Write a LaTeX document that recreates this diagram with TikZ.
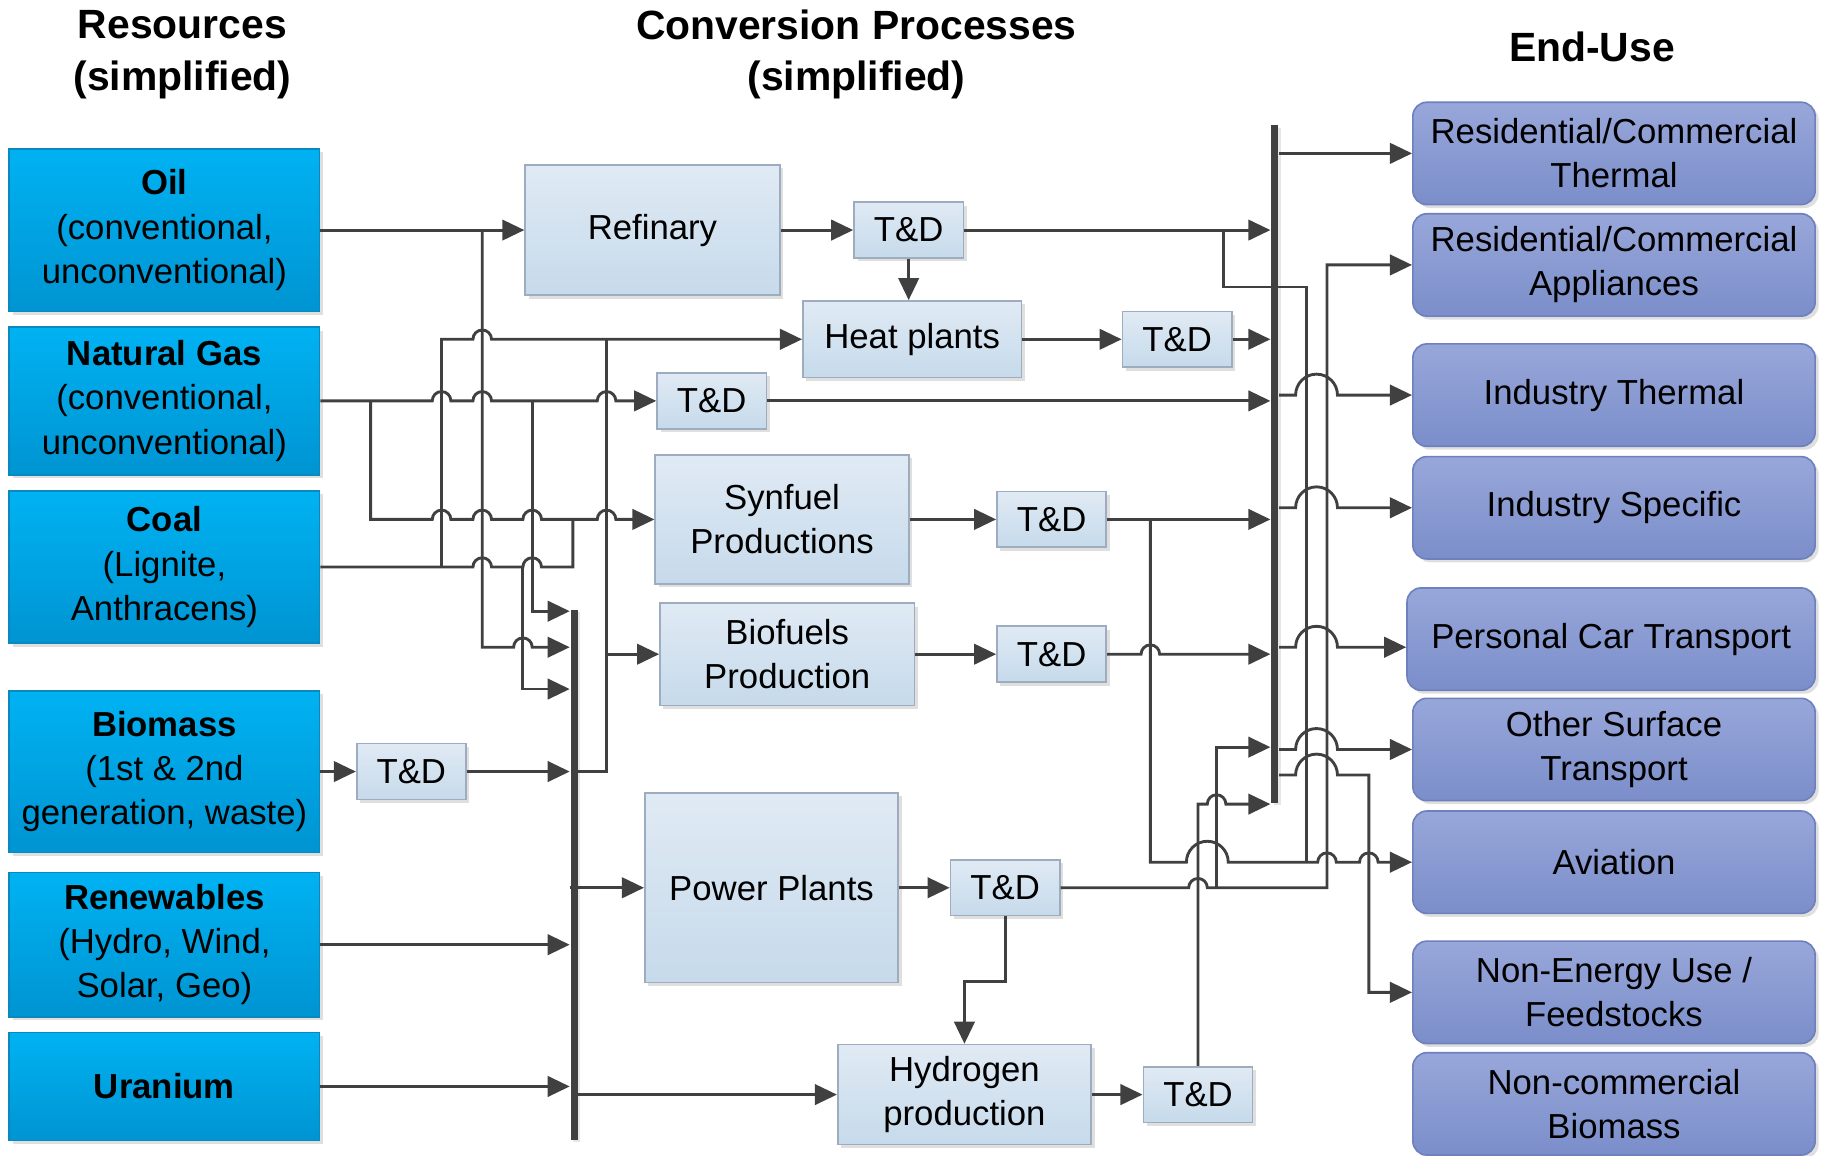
\documentclass[tikz,border=0pt]{standalone}
\usepackage{fontspec}
\setmainfont{Liberation Sans}
\usetikzlibrary{arrows.meta, shadows}

\definecolor{linegray}{HTML}{404040}
\definecolor{restop}{HTML}{00B2F2}
\definecolor{resbot}{HTML}{0094D2}
\definecolor{resedge}{HTML}{0B88BE}
\definecolor{proctop}{HTML}{E0EAF4}
\definecolor{procbot}{HTML}{C6DAEB}
\definecolor{procedge}{HTML}{9DADBF}
\definecolor{usetop}{HTML}{98A7DA}
\definecolor{usebot}{HTML}{7B8ECA}
\definecolor{useedge}{HTML}{6E80BD}

% a horizontal line jumping over a vertical one at x
\newcommand{\linehop}[2]{-- (#1-8,#2) arc[start angle=180, end angle=0, radius=0.08cm]}
\newcommand{\widehop}[2]{-- (#1-18,#2) arc[start angle=180, end angle=0, radius=0.18cm]}

\begin{document}
\begin{tikzpicture}[x=0.01cm, y=-0.01cm,
    every node/.style={font=\fontsize{8.5}{10.8}\selectfont, text=black},
    title/.style={font=\fontsize{10}{12.6}\selectfont\bfseries, align=center},
    resource/.style={draw=resedge, top color=restop, bottom color=resbot, minimum width=2.67cm,
        inner sep=0pt, align=center, drop shadow={shadow xshift=0.03cm, shadow yshift=-0.03cm, opacity=0.25}},
    process/.style={draw=procedge, top color=proctop, bottom color=procbot, inner sep=0pt,
        align=center, drop shadow={shadow xshift=0.03cm, shadow yshift=-0.03cm, opacity=0.25}},
    td/.style={process, minimum width=0.94cm, minimum height=0.48cm},
    enduse/.style={draw=useedge, top color=usetop, bottom color=usebot, rounded corners=0.12cm,
        minimum width=3.46cm, minimum height=0.88cm, inner sep=0pt, align=center,
        drop shadow={shadow xshift=0.03cm, shadow yshift=-0.03cm, opacity=0.25}},
    bus/.style={fill=linegray, inner sep=0pt, minimum width=0.06cm,
        drop shadow={shadow xshift=0.02cm, shadow yshift=-0.02cm, opacity=0.2}},
    wire/.style={draw=linegray, line width=0.7pt},
    flow/.style={wire, -{Triangle[length=5.4pt, width=5pt]}}
]
\useasboundingbox (0,0) rectangle (1568,994);

% titles
\node[title] (restitle) at (157,47) {Resources\\(simplified)};
\node[title] (convtitle) at (737,47) {Conversion Processes\\(simplified)};
\node[title] (endtitle) at (1370,40) {End-Use};

% resources
\node[resource, minimum height=1.40cm] (oil) at (141.5,198) {\textbf{Oil}\\(conventional,\\unconventional)};
\node[resource, minimum height=1.27cm] (gas) at (141.5,345) {\textbf{Natural Gas}\\(conventional,\\unconventional)};
\node[resource, minimum height=1.31cm] (coal) at (141.5,488) {\textbf{Coal}\\(Lignite,\\Anthracens)};
\node[resource, minimum height=1.39cm] (biomass) at (141.5,664) {\textbf{Biomass}\\(1st \& 2nd\\generation, waste)};
\node[resource, minimum height=1.24cm] (renew) at (141.5,813) {\textbf{Renewables}\\(Hydro, Wind,\\Solar, Geo)};
\node[resource, minimum height=0.93cm] (uranium) at (141.5,935) {\textbf{Uranium}};

% conversion processes
\node[process, minimum width=2.19cm, minimum height=1.12cm] (refinery) at (561.5,198) {Refinary};
\node[td] (tdref) at (782,198) {T\&D};
\node[process, minimum width=1.88cm, minimum height=0.66cm] (heat) at (785,292) {Heat plants};
\node[td] (tdheat) at (1013,292) {T\&D};
\node[td] (tdgas) at (612.5,345) {T\&D};
\node[process, minimum width=2.18cm, minimum height=1.11cm] (syn) at (673,447) {Synfuel\\Productions};
\node[td] (tdsyn) at (905,447) {T\&D};
\node[process, minimum width=2.19cm, minimum height=0.88cm] (bio) at (677.5,563) {Biofuels\\Production};
\node[td] (tdbio) at (905,563) {T\&D};
\node[td] (tdbm) at (354,664) {T\&D};
\node[process, minimum width=2.18cm, minimum height=1.63cm] (power) at (664,764) {Power Plants};
\node[td] (tdpow) at (865,764) {T\&D};
\node[process, minimum width=2.18cm, minimum height=0.86cm] (hyd) at (830,942) {Hydrogen\\production};
\node[td] (tdhyd) at (1031,942) {T\&D};

% end-use
\node[enduse] (rct) at (1389,132) {Residential/Commercial\\Thermal};
\node[enduse] (rca) at (1389,228) {Residential/Commercial\\Appliances};
\node[enduse] (ith) at (1389,340) {Industry Thermal};
\node[enduse] (isp) at (1389,437) {Industry Specific};
\node[enduse, minimum width=3.51cm] (pct) at (1386.5,550) {Personal Car Transport};
\node[enduse] (ost) at (1389,645) {Other Surface\\Transport};
\node[enduse] (avi) at (1389,742) {Aviation};
\node[enduse] (neu) at (1389,854) {Non-Energy Use /\\Feedstocks};
\node[enduse] (ncb) at (1389,950) {Non-commercial\\Biomass};

% buses
\node[bus, minimum height=4.56cm] (lbus) at (494,753) {};
\node[bus, minimum height=5.83cm] (rbus) at (1097,399.5) {};

% resources to conversion
\draw[flow] (oil.east) -- (refinery.west);
\draw[flow] (415,198) -- (415,557) \linehop{450}{557} -- (lbus.west |- 0,557);
\draw[flow] (gas.east) \linehop{380}{345} \linehop{415}{345} \linehop{522}{345} -- (tdgas.west);
\draw[flow] (319,345) -- (319,447) \linehop{380}{447} \linehop{415}{447} \linehop{458}{447} \linehop{522}{447} -- (syn.west);
\draw[flow] (458,345) -- (458,526) -- (lbus.west |- 0,526);
\draw[wire] (coal.east) \linehop{415}{488} \linehop{458}{488} -- (493,488) -- (493,447);
\draw[flow] (380,488) -- (380,292) \linehop{415}{292} -- (heat.west);
\draw[flow] (450,488) -- (450,593) -- (lbus.west |- 0,593);
\draw[flow] (biomass.east) -- (tdbm.west);
\draw[flow] (tdbm.east) -- (lbus.west |- 0,664);
\draw[wire] (lbus.east |- 0,664) -- (522,664) -- (522,292);
\draw[flow] (522,563) -- (bio.west);
\draw[flow] (renew.east) -- (lbus.west |- 0,813);
\draw[flow] (uranium.east) -- (lbus.west |- 0,935);
\draw[flow] (lbus.west |- 0,764) -- (power.west);
\draw[flow] (lbus.east |- 0,942) -- (hyd.west);

% conversion chains
\draw[flow] (refinery.east) -- (tdref.west);
\draw[flow] (tdref.south) -- (tdref.south |- heat.north);
\draw[flow] (heat.east) -- (tdheat.west);
\draw[flow] (syn.east) -- (tdsyn.west);
\draw[flow] (bio.east) -- (tdbio.west);
\draw[flow] (power.east) -- (tdpow.west);
\draw[flow] (hyd.east) -- (tdhyd.west);
\draw[flow] (tdpow.south) -- (tdpow.south |- 0,845) -| (hyd.north);

% to end-use
\draw[flow] (tdref.east) -- (rbus.west |- 0,198);
\draw[wire] (1053,198) -- (1053,247) -- (1124,247) -- (1124,742);
\draw[flow] (rbus.east |- 0,132) -- (rct.west);
\draw[flow] (tdheat.east) -- (rbus.west |- 0,292);
\draw[flow] (tdgas.east) -- (rbus.west |- 0,345);
\draw[flow] (rbus.east |- 0,340) \widehop{1133}{340} -- (ith.west);
\draw[flow] (tdsyn.east) -- (rbus.west |- 0,447);
\draw[flow] (rbus.east |- 0,437) \widehop{1133}{437} -- (isp.west);
\draw[flow] (tdbio.east) \linehop{990}{563} -- (rbus.west |- 0,563);
\draw[flow] (rbus.east |- 0,557) \widehop{1133}{557} -- (pct.west |- 0,557);
\draw[flow] (rbus.east |- 0,645) \widehop{1133}{645} -- (ost.west);
\draw[flow] (rbus.east |- 0,667) \widehop{1133}{667} -- (1178,667) -- (1178,854) -- (neu.west);
\draw[flow] (990,447) -- (990,742) \widehop{1039}{742} -- (1124,742) \linehop{1142}{742} \linehop{1178}{742} -- (avi.west);
\draw[flow] (tdpow.east) \linehop{1031}{764} -- (1142,764) -- (1142,228) -- (rca.west);
\draw[flow] (1047,764) -- (1047,643) -- (rbus.west |- 0,643);
\draw[flow] (tdhyd.north) -- (1031,692) \linehop{1047}{692} -- (rbus.west |- 0,692);
\end{tikzpicture}
\end{document}
